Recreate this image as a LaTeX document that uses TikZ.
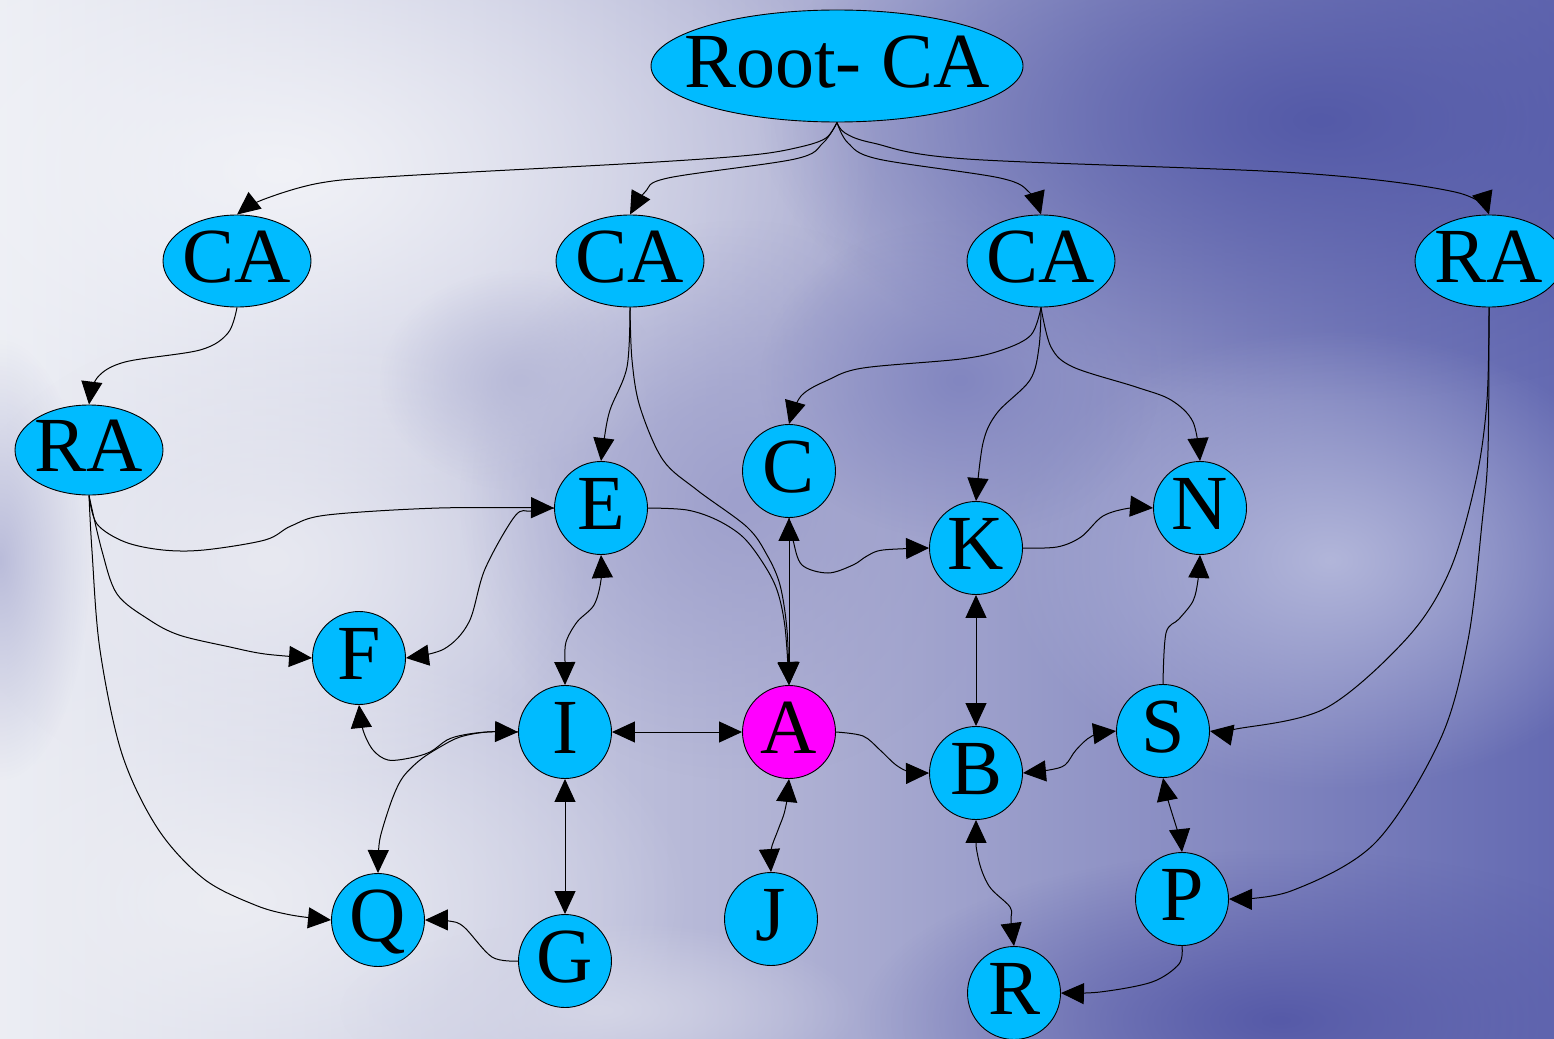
\documentclass[tikz,border=0pt]{standalone}
\usepackage{fontspec}
\setmainfont{Liberation Serif}
\usetikzlibrary{shapes.geometric,arrows.meta,fadings}

\definecolor{nodeblue}{RGB}{0,187,255}
\definecolor{nodemag}{RGB}{255,0,255}
\definecolor{skyleft}{RGB}{236,238,244}
\definecolor{skymid}{RGB}{176,178,212}
\definecolor{skyright}{RGB}{100,106,178}
\definecolor{cloudA}{RGB}{241,242,247}
\definecolor{cloudB}{RGB}{236,237,243}
\definecolor{cloudC}{RGB}{232,233,241}
\definecolor{deepA}{RGB}{84,90,168}
\definecolor{lavA}{RGB}{178,182,218}
\definecolor{deepB}{RGB}{86,90,168}
\definecolor{lavB}{RGB}{186,188,218}
\definecolor{lavC}{RGB}{158,160,204}
\definecolor{lavD}{RGB}{212,213,230}
\definecolor{lavE}{RGB}{130,134,192}
\definecolor{lavF}{RGB}{184,186,216}
\tikzfading[name=softblob, inner color=transparent!0, outer color=transparent!100]

\tikzset{
  pkinode/.style={ellipse, draw=black, line width=0.9pt, fill=nodeblue, inner xsep=-40pt, inner ysep=0pt,
    font=\fontsize{78}{78}\selectfont, text height=52pt, text depth=9pt},
  letter/.style={pkinode, minimum width=93pt, minimum height=93pt},
  authority/.style={pkinode, minimum width=148pt, minimum height=92pt},
  link/.style={draw=black, line width=1pt},
  tip/.tip={Triangle[length=23pt,width=21pt]},
  one/.style={link, -tip},
  both/.style={link, tip-tip},
  smoothed/.style={smooth, tension=0.55},
  blob/.style={fill=#1, path fading=softblob}
}

\begin{document}
\begin{tikzpicture}[x=1pt,y=-1pt]
\useasboundingbox (0,0) rectangle (1554,1038);

% cloudy backdrop
\begin{scope}
\clip (0,0) rectangle (1554,1038);
\fill[left color=skyleft, right color=skyright, middle color=skymid] (0,0) rectangle (1554,1038);
\fill[blob=cloudA] (280,170) ellipse [x radius=600, y radius=330];
\fill[blob=cloudB] (230,900) ellipse [x radius=460, y radius=260];
\fill[blob=cloudC] (270,560) ellipse [x radius=320, y radius=240];
\fill[blob=deepA] (1320,120) ellipse [x radius=560, y radius=280];
\fill[blob=lavA] (1330,560) ellipse [x radius=330, y radius=230];
\fill[blob=deepB] (1280,1020) ellipse [x radius=420, y radius=170];
\fill[blob=lavB] (0,560) ellipse [x radius=90, y radius=220];
\fill[blob=lavC] (740,500) ellipse [x radius=280, y radius=280];
\fill[blob=lavD] (600,1010) ellipse [x radius=260, y radius=90];
\fill[blob=lavE] (960,380) ellipse [x radius=200, y radius=160];
\fill[blob=lavF] (520,380) ellipse [x radius=140, y radius=110];
\end{scope}

% authorities
\node[pkinode, minimum width=372pt, minimum height=112pt] (root) at (837,66) {Root- CA};
\node[authority] (ca1) at (237,261) {CA};
\node[authority] (ca2) at (630,261) {CA};
\node[authority] (ca3) at (1041,261) {CA};
\node[authority] (ra2) at (1489,261) {RA};
\node[authority, minimum height=90pt] (ra1) at (89,450) {RA};

% participants
\node[letter] (e) at (601,508) {E};
\node[letter] (c) at (789,471) {C};
\node[letter] (k) at (976,548) {K};
\node[letter] (n) at (1200,508) {N};
\node[letter] (f) at (359,658) {F};
\node[letter] (i) at (565,732) {I};
\node[letter, fill=nodemag] (a) at (789,732) {A};
\node[letter] (b) at (976,773) {B};
\node[letter] (s) at (1163,731) {S};
\node[letter] (q) at (378,920) {Q};
\node[letter] (g) at (565,961) {G};
\node[letter] (j) at (771,919) {J};
\node[letter] (p) at (1182,899) {P};
\node[letter] (r) at (1014,993) {R};

% hierarchy links
\draw[one] plot[smoothed] coordinates {(root.south) (826,138) (800,147) (752,155) (640,163) (400,176) (320,183) (262,200) (ca1.north)};
\draw[one] plot[smoothed] coordinates {(root.south) (823,143) (795,159) (668,178) (645,192) (ca2.north)};
\draw[one] plot[smoothed] coordinates {(root.south) (848,143) (878,159) (1000,178) (1030,193) (ca3.north)};
\draw[one] plot[smoothed] coordinates {(root.south) (845,133) (873,143) (967,159) (1299,173) (1455,192) (ra2.north)};
\draw[one] plot[smoothed] coordinates {(ca1.south) (228,333) (200,350) (125,362) (97,378) (ra1.north)};
\draw[one] plot[smoothed] coordinates {(ca2.south) (627,367) (610,410) (604,440) (e.north)};
\draw[one] plot[smoothed] coordinates {(ca2.south) (632,360) (640,407) (663,460) (697,490) (747,527) (767,555) (780,585) (787,630) (a.north)};
\draw[one] plot[smoothed] coordinates {(ca3.south) (1031,335) (1002,350) (961,359) (863,368) (828,380) (801,396) (c.north)};
\draw[one] plot[smoothed] coordinates {(ca3.south) (1039,347) (1030,380) (997,413) (983,443) (k.north)};
\draw[one] plot[smoothed] coordinates {(ca3.south) (1051,347) (1073,367) (1136,387) (1171,400) (1193,422) (n.north)};
\draw[one] plot[smoothed] coordinates {(ra2.south) (1487,400) (1476,480) (1450,570) (1408,637) (1326,708) (1236,729) (s.east)};
\draw[one] plot[smoothed] coordinates {(ra2.south) (1488,450) (1482,523) (1468,640) (1440,740) (1375,843) (1291,891) (p.east)};
\draw[one] plot[smoothed] coordinates {(ra1.south) (97,524) (125,542) (163,550) (204,550) (265,540) (291,526) (327,515) (439,508) (e.west)};
\draw[one] plot[smoothed] coordinates {(ra1.south) (102,551) (117,594) (148,619) (179,635) (230,647) (265,654) (f.west)};
\draw[one] plot[smoothed] coordinates {(ra1.south) (92,551) (100,650) (122,754) (158,829) (204,879) (255,905) (291,915) (q.west)};

% cross links
\draw[one] plot[smoothed] coordinates {(e.east) (687,510) (717,520) (743,537) (763,563) (777,590) (785,627) (a.north)};
\draw[both] (c.south) -- (a.north);
\draw[one] plot[smoothed] coordinates {(c.south) (793,540) (802,565) (828,573) (853,565) (867,556) (883,550) (k.west)};
\draw[one] plot[smoothed] coordinates {(e.west) (531,511) (515,516) (485,569) (469,622) (444,649) (f.east)};
\draw[both] plot[smoothed] coordinates {(i.west) (487,732) (463,735) (447,740) (430,752) (410,758) (388,760) (373,750) (363,730) (f.south)};
\draw[one] plot[smoothed] coordinates {(i.west) (487,732) (460,737) (440,747) (420,760) (403,777) (393,797) (383,827) (379,845) (q.north)};
\draw[both] plot[smoothed] coordinates {(e.south) (601,580) (594,605) (577,622) (566,642) (565,662) (i.north)};
\draw[both] (i.east) -- (a.west);
\draw[both] (i.south) -- (g.north);
\draw[one] plot[smoothed] coordinates {(g.west) (492,957) (464,927) (449,921) (q.east)};
\draw[both] plot[smoothed] coordinates {(a.south) (785,810) (778,830) (771,850) (j.north)};
\draw[one] plot[smoothed] coordinates {(a.east) (863,736) (880,750) (896,765) (910,772) (b.west)};
\draw[both] (k.south) -- (b.north);
\draw[one] plot[smoothed] coordinates {(k.east) (1057,547) (1081,537) (1103,516) (1130,508) (n.west)};
\draw[one] plot[smoothed] coordinates {(s.north) (1166,633) (1179,619) (1193,601) (1198,580) (n.south)};
\draw[both] plot[smoothed] coordinates {(s.west) (1092,736) (1076,750) (1065,765) (1049,770) (b.east)};
\draw[both] plot[smoothed] coordinates {(s.south) (1168,800) (1179,836) (p.north)};
\draw[both] plot[smoothed] coordinates {(b.south) (978,857) (989,886) (1010,907) (1011,921) (r.north)};
\draw[one] plot[smoothed] coordinates {(p.south) (1179,964) (1152,982) (1100,992) (r.east)};
\end{tikzpicture}
\end{document}
